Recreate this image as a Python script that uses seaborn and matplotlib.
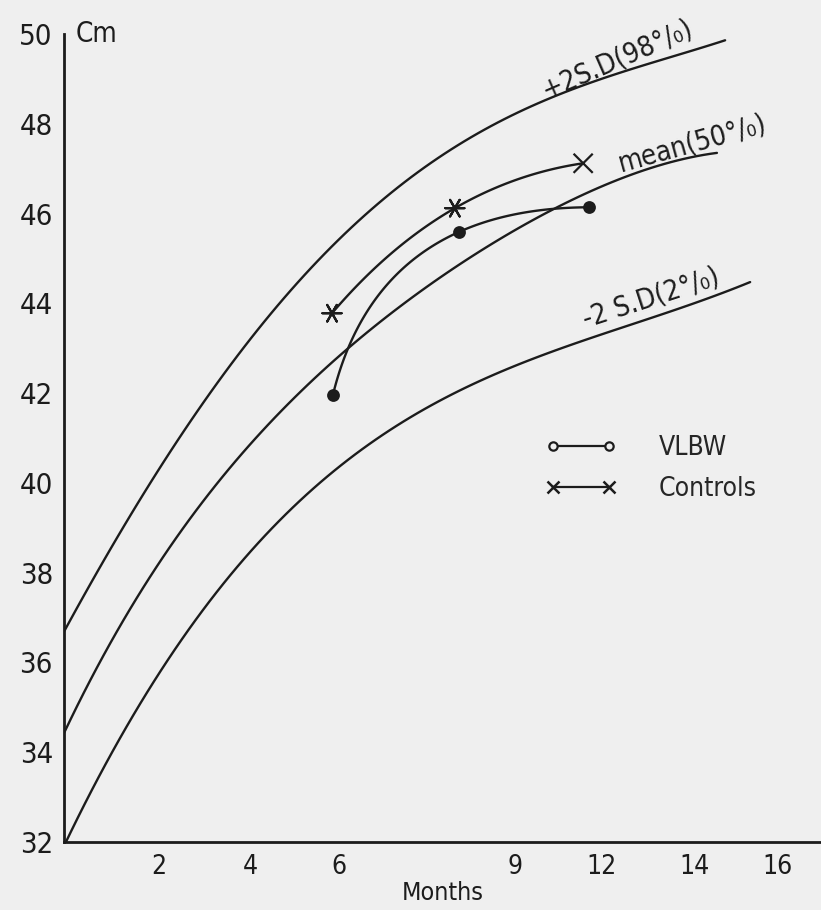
import numpy as np
import pandas as pd
import matplotlib
matplotlib.use("Agg")
import matplotlib.pyplot as plt
from matplotlib.lines import Line2D
import seaborn as sns

# ---------------- data ----------------
# x is the position along the drawn (non-linear) month axis
upper_x = [0, 0.64, 1.01, 2.84, 4.31, 5.19, 6.51, 8.11, 10.53, 14.53]
upper_y = [36.7, 37.84, 38.5, 41.47, 43.47, 44.58, 45.79, 47.2, 48.5, 49.86]
mean_x = [0, 0.79, 1.6, 2.26, 3.58, 5.19, 6.13, 7.01, 9.0, 11.05, 12.2, 14.35]
mean_y = [34.5, 35.9, 37.4, 38.5, 40.35, 42.0, 42.9, 43.6, 45.05, 46.3, 46.74, 47.35]
lower_x = [0, 0.79, 1.89, 2.99, 3.93, 5.03, 5.85, 6.51, 7.98, 8.77, 11.71, 15.08]
lower_y = [32.0, 33.45, 35.3, 37.0, 38.4, 39.6, 40.24, 40.73, 41.62, 41.9, 43.4, 44.45]

vlbw_x = [5.91, 8.68, 11.54]
vlbw_y = [41.96, 45.59, 46.14]
ctrl_x = [5.89, 8.59, 11.41]
ctrl_y = [43.78, 46.12, 47.12]

tick_pos = [2.09, 4.09, 6.04, 8.0, 8.99, 9.91, 11.82, 13.85, 15.69]
tick_lab = ["2", "4", "6", "", "", "9", "12", "14", "16"]
y_ticks = [32, 34, 36, 38, 40, 42, 44, 46, 48, 50]

curve_labels = ["+2S.D(98°/₀)", "mean(50°/₀)", "-2 S.D(2°/₀)"]
series_names = ["VLBW", "Controls"]

# ---------------- style ----------------
BG = "#efefef"
INK = "#1c1c1c"
sns.set_theme(style="white", rc={"figure.facecolor": BG, "axes.facecolor": BG,
                                 "savefig.facecolor": BG})
plt.rcParams["font.family"] = ["DejaVu Sans"]
plt.rcParams["font.stretch"] = "condensed"

fig = plt.figure(figsize=(8.21, 9.10), dpi=100)
ax = fig.add_axes([64 / 821, 68 / 910, 757 / 821, 808 / 910])
ax.set_xlim(0, 757 / 45.5)
ax.set_ylim(32, 50)

# reference curves (smooth polynomial fits through the read points)
for xs, ys in [(upper_x, upper_y), (mean_x, mean_y), (lower_x, lower_y)]:
    sns.regplot(x=np.array(xs), y=np.array(ys), order=4, ci=None, scatter=False,
                truncate=True, ax=ax, line_kws=dict(color=INK, lw=1.7))


def smooth_through(xs, ys, t_mid):
    t = np.array([0.0, t_mid, 1.0])
    px = np.polyfit(t, xs, 2)
    py = np.polyfit(t, ys, 2)
    tt = np.linspace(0, 1, 100)
    return np.polyval(px, tt), np.polyval(py, tt)


cx, cy = smooth_through(ctrl_x, ctrl_y, 0.52)
sns.lineplot(x=cx, y=cy, sort=False, ax=ax, color=INK, lw=1.7)
vx, vy = smooth_through(vlbw_x, vlbw_y, 0.64)
sns.lineplot(x=vx, y=vy, sort=False, ax=ax, color=INK, lw=1.7)

sns.scatterplot(x=vlbw_x, y=vlbw_y, ax=ax, color=INK, s=85, marker="o",
                edgecolor=INK, linewidth=0, zorder=5)
ctrl_df = pd.DataFrame({"x": ctrl_x, "y": ctrl_y, "m": ["a", "a", "b"]})
sns.scatterplot(data=ctrl_df, x="x", y="y", style="m",
                markers={"a": (6, 2, 90), "b": "x"}, s=190, color=INK,
                linewidth=1.6, ax=ax, legend=False, zorder=5)

# curve labels
ax.text(12.15, 49.45, curve_labels[0], rotation=23.5, fontsize=20, color=INK,
        ha="center", va="center", rotation_mode="anchor")
ax.text(13.8, 47.55, curve_labels[1], rotation=15.5, fontsize=20, color=INK,
        ha="center", va="center", rotation_mode="anchor")
ax.text(12.9, 44.12, curve_labels[2], rotation=18, fontsize=20, color=INK,
        ha="center", va="center", rotation_mode="anchor")

# legend
handles = [Line2D([], [], color=INK, lw=1.6, marker="o", markersize=6,
                  mfc=BG, mec=INK, mew=1.6),
           Line2D([], [], color=INK, lw=1.6, marker="x", markersize=9, mew=1.8)]
ax.legend(handles, series_names, loc="center left", bbox_to_anchor=(0.636, 0.462),
          frameon=False, fontsize=19, numpoints=2, handlelength=2.7,
          handletextpad=1.6, labelspacing=0.55, borderpad=0, borderaxespad=0)

# axes
sns.despine(ax=ax)
for s in ["left", "bottom"]:
    ax.spines[s].set_color(INK)
    ax.spines[s].set_linewidth(2.0)
ax.set_xticks(tick_pos)
ax.set_xticklabels(tick_lab)
ax.set_yticks(y_ticks)
ax.tick_params(axis="x", direction="out", length=6, width=1.8, colors=INK,
               labelsize=19, pad=3)
ax.tick_params(axis="y", direction="out", length=7, width=1.8, colors=INK,
               labelsize=21, pad=1)
ax.set_xlabel("Months", fontsize=18, color=INK, labelpad=0)
ax.set_ylabel("")
ax.text(0.25, 50, "Cm", fontsize=20, color=INK, ha="left", va="center")

fig.savefig("out.png", dpi=100)
